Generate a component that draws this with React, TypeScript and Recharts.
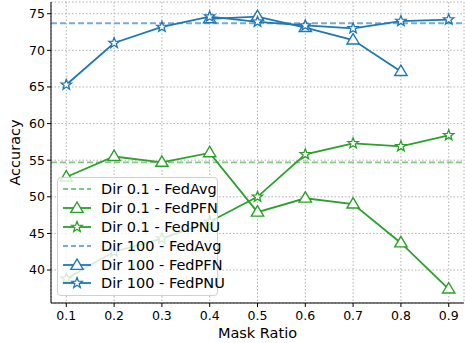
import { LineChart, Line, XAxis, YAxis, CartesianGrid, ReferenceLine } from "recharts";

const maskRatios = [0.1, 0.2, 0.3, 0.4, 0.5, 0.6, 0.7, 0.8, 0.9];
const fedAvgDir01 = 54.7;
const fedPfnDir01 = [52.7, 55.5, 54.7, 56.0, 47.9, 49.8, 49.0, 43.7, 37.4];
const fedPnuDir01 = [38.8, 42.5, 44.3, 46.6, 50.0, 55.8, 57.3, 56.9, 58.4];
const fedAvgDir100 = 73.7;
const fedPfnDir100 = [null, null, null, 74.3, 74.6, 73.1, 71.4, 67.1, null];
const fedPnuDir100 = [65.3, 71.0, 73.2, 74.6, 73.9, 73.4, 73.0, 74.0, 74.2];
const yTicks = [40, 45, 50, 55, 60, 65, 70, 75];

const GREEN = "#2ca02c";
const BLUE = "#1f77b4";
const GREEN_LIGHT = "#80c980";
const BLUE_LIGHT = "#79aad2";
const FONT = "DejaVu Sans, sans-serif";

const data = maskRatios.map((x, i) => ({
  x,
  pfn01: fedPfnDir01[i],
  pnu01: fedPnuDir01[i],
  pfn100: fedPfnDir100[i],
  pnu100: fedPnuDir100[i],
}));

function trianglePts(cx: number, cy: number, r: number) {
  return `${cx},${cy - r} ${cx - r * 0.95},${cy + r * 0.6} ${cx + r * 0.95},${cy + r * 0.6}`;
}

function starPts(cx: number, cy: number, r: number) {
  const pts: string[] = [];
  for (let k = 0; k < 10; k++) {
    const rr = k % 2 === 0 ? r : r * 0.42;
    const a = -Math.PI / 2 + (k * Math.PI) / 5;
    pts.push(`${cx + rr * Math.cos(a)},${cy + rr * Math.sin(a)}`);
  }
  return pts.join(" ");
}

const triDot = (color: string) => (p: any) => {
  if (p.value == null || p.cy == null) return <g key={p.key} />;
  return (
    <polygon key={p.key} points={trianglePts(p.cx, p.cy, 6.5)} fill="#fff" stroke={color} strokeWidth={1.4} />
  );
};

const starDot = (color: string) => (p: any) => {
  if (p.value == null || p.cy == null) return <g key={p.key} />;
  return <polygon key={p.key} points={starPts(p.cx, p.cy, 5.5)} fill="#fff" stroke={color} strokeWidth={1.3} />;
};

const legendItems = [
  { label: "Dir 0.1 - FedAvg", color: GREEN_LIGHT, kind: "dash" },
  { label: "Dir 0.1 - FedPFN", color: GREEN, kind: "tri" },
  { label: "Dir 0.1 - FedPNU", color: GREEN, kind: "star" },
  { label: "Dir 100 - FedAvg", color: BLUE_LIGHT, kind: "dash" },
  { label: "Dir 100 - FedPFN", color: BLUE, kind: "tri" },
  { label: "Dir 100 - FedPNU", color: BLUE, kind: "star" },
];

function LegendBox() {
  return (
    <div
      style={{
        position: "absolute",
        left: 57,
        top: 177,
        width: 161,
        boxSizing: "border-box",
        background: "rgba(255,255,255,0.8)",
        border: "1px solid #d0d0d0",
        borderRadius: 4,
        padding: "2px 4px 2px 4px",
        fontFamily: FONT,
        fontSize: 14.5,
        color: "#000",
      }}
    >
      {legendItems.map((it) => (
        <div key={it.label} style={{ display: "flex", alignItems: "center", height: 18.8 }}>
          <svg width={30} height={14} style={{ marginRight: 9, flexShrink: 0 }}>
            {it.kind === "dash" ? (
              <line x1={1} y1={7} x2={29} y2={7} stroke={it.color} strokeWidth={1.8} strokeDasharray="5 3" />
            ) : (
              <>
                <line x1={1} y1={7} x2={29} y2={7} stroke={it.color} strokeWidth={1.8} />
                {it.kind === "tri" ? (
                  <polygon points={trianglePts(15, 7.5, 6.5)} fill="#fff" stroke={it.color} strokeWidth={1.4} />
                ) : (
                  <polygon points={starPts(15, 7, 5.5)} fill="#fff" stroke={it.color} strokeWidth={1.3} />
                )}
              </>
            )}
          </svg>
          <span style={{ whiteSpace: "nowrap" }}>{it.label}</span>
        </div>
      ))}
    </div>
  );
}

export default function App() {
  return (
    <div style={{ position: "absolute", left: 0, top: 0, width: 465, height: 343, background: "#fff" }}>
      <LineChart width={465} height={343} data={data} margin={{ top: 2, right: 1, left: 0, bottom: 0 }}>
        <CartesianGrid stroke="#b0b0b0" strokeDasharray="1.5 2" />
        <XAxis
          dataKey="x"
          type="number"
          domain={[0.068, 0.932]}
          ticks={maskRatios}
          tickFormatter={(v: number) => v.toFixed(1)}
          allowDataOverflow
          height={40}
          stroke="#000"
          tickSize={4}
          tick={{ fill: "#000", fontSize: 12.5, fontFamily: FONT, dy: 2 }}
          label={{ value: "Mask Ratio", position: "insideBottom", offset: 5, fill: "#000", fontSize: 14.5, fontFamily: FONT }}
        />
        <XAxis xAxisId="top" orientation="top" dataKey="x" type="number" domain={[0.068, 0.932]} height={0} tick={false} tickLine={false} stroke="#000" />
        <YAxis
          type="number"
          domain={[35.5, 76.6]}
          ticks={yTicks}
          allowDataOverflow
          width={51}
          stroke="#000"
          tickSize={4}
          tick={{ fill: "#000", fontSize: 12.5, fontFamily: FONT }}
          label={{ value: "Accuracy", angle: -90, position: "insideLeft", offset: 15, fill: "#000", fontSize: 14.5, fontFamily: FONT, style: { textAnchor: "middle" } }}
        />
        <YAxis yAxisId="right" orientation="right" domain={[35.5, 76.6]} width={0} tick={false} tickLine={false} stroke="#000" />
        <ReferenceLine y={fedAvgDir01} stroke={GREEN_LIGHT} strokeWidth={1.8} strokeDasharray="6 3" />
        <ReferenceLine y={fedAvgDir100} stroke={BLUE_LIGHT} strokeWidth={1.8} strokeDasharray="6 3" />
        <Line dataKey="pfn01" stroke={GREEN} strokeWidth={1.8} dot={triDot(GREEN)} isAnimationActive={false} />
        <Line dataKey="pnu01" stroke={GREEN} strokeWidth={1.8} dot={starDot(GREEN)} isAnimationActive={false} />
        <Line dataKey="pfn100" stroke={BLUE} strokeWidth={1.8} dot={triDot(BLUE)} isAnimationActive={false} />
        <Line dataKey="pnu100" stroke={BLUE} strokeWidth={1.8} dot={starDot(BLUE)} isAnimationActive={false} />
      </LineChart>
      <LegendBox />
    </div>
  );
}
